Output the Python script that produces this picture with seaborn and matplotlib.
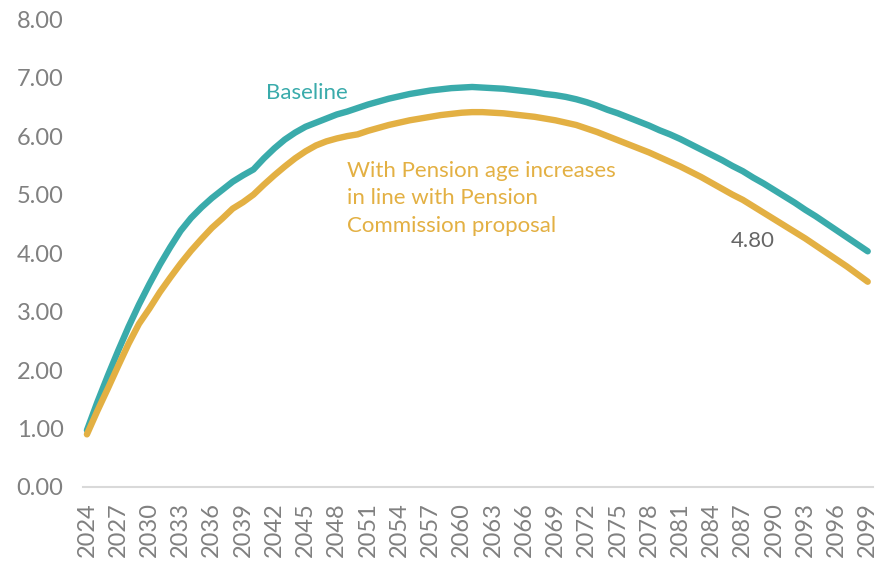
import matplotlib
matplotlib.use("Agg")
import matplotlib.pyplot as plt
import seaborn as sns
import pandas as pd
import numpy as np

years = list(range(2024, 2100))

baseline = [
    0.97, 1.45, 1.90, 2.33, 2.74, 3.12, 3.47, 3.80, 4.10, 4.38,
    4.60, 4.78, 4.94, 5.08, 5.22, 5.33, 5.43, 5.62, 5.79, 5.94,
    6.06, 6.16, 6.23, 6.30, 6.37, 6.42, 6.48, 6.54, 6.59, 6.64,
    6.68, 6.72, 6.75, 6.78, 6.80, 6.82, 6.83, 6.84, 6.83, 6.82,
    6.81, 6.79, 6.77, 6.75, 6.72, 6.70, 6.67, 6.63, 6.58, 6.52,
    6.45, 6.39, 6.32, 6.25, 6.18, 6.10, 6.03, 5.95, 5.86, 5.77,
    5.68, 5.59, 5.49, 5.40, 5.29, 5.19, 5.08, 4.97, 4.86, 4.74,
    4.63, 4.51, 4.39, 4.27, 4.15, 4.03,
]

pension_age = [
    0.90, 1.30, 1.68, 2.07, 2.45, 2.79, 3.05, 3.33, 3.58, 3.82,
    4.04, 4.24, 4.43, 4.59, 4.76, 4.87, 5.00, 5.17, 5.33, 5.48,
    5.62, 5.74, 5.84, 5.91, 5.96, 6.00, 6.03, 6.09, 6.14, 6.19,
    6.23, 6.27, 6.30, 6.33, 6.36, 6.38, 6.40, 6.41, 6.41, 6.40,
    6.39, 6.37, 6.35, 6.33, 6.30, 6.27, 6.23, 6.19, 6.13, 6.07,
    6.00, 5.93, 5.86, 5.79, 5.72, 5.64, 5.56, 5.48, 5.39, 5.30,
    5.20, 5.10, 5.00, 4.91, 4.80, 4.69, 4.58, 4.47, 4.36, 4.25,
    4.13, 4.01, 3.89, 3.77, 3.64, 3.51,
]

series_names = ["Baseline",
                "With Pension age increases\nin line with Pension\nCommission proposal"]
label_year = 2088

teal = "#3aabab"
gold = "#e3b043"
grey = "#808080"

df = pd.DataFrame({
    "year": years * 2,
    "value": baseline + pension_age,
    "series": [series_names[0]] * len(years) + [series_names[1]] * len(years),
})

sns.set_theme(style="white")
plt.rcParams["font.family"] = ["Lato", "DejaVu Sans"]

fig = plt.figure(figsize=(8.78, 5.63), dpi=100)
ax = fig.add_axes([0.0945, 0.135, 0.8995, 0.831])

sns.lineplot(data=df, x="year", y="value", hue="series",
             palette=[teal, gold], linewidth=4.6, ax=ax, legend=False,
             solid_capstyle="round")

ax.set_xlim(2023.62, 2099.48)
ax.set_ylim(0, 8)
ax.set_yticks(np.arange(0, 9, 1))
ax.set_yticklabels([f"{v:.2f}" for v in np.arange(0, 9, 1)])
ax.set_xticks(years[::3])
ax.set_xticklabels([str(y) for y in years[::3]], rotation=90)
ax.tick_params(axis="both", length=0, labelcolor=grey, labelsize=17)
ax.tick_params(axis="y", pad=14)
ax.tick_params(axis="x", pad=11)
ax.set_xlabel("")
ax.set_ylabel("")

for s in ["left", "right", "top"]:
    ax.spines[s].set_visible(False)
ax.spines["bottom"].set_color("#d9d9d9")
ax.spines["bottom"].set_linewidth(1.5)
ax.grid(False)

ax.text(2041.2, 6.73, series_names[0], color=teal, fontsize=16,
        ha="left", va="center")
ax.text(2049.0, 5.57, series_names[1], color=gold, fontsize=16,
        ha="left", va="top", linespacing=1.45)

v = pension_age[years.index(label_year)]
ax.annotate(f"{v:.2f}", xy=(label_year, v), xytext=(0, -25),
            textcoords="offset points", ha="center", va="center",
            color="#666666", fontsize=16)

fig.savefig("out.png", dpi=100)
